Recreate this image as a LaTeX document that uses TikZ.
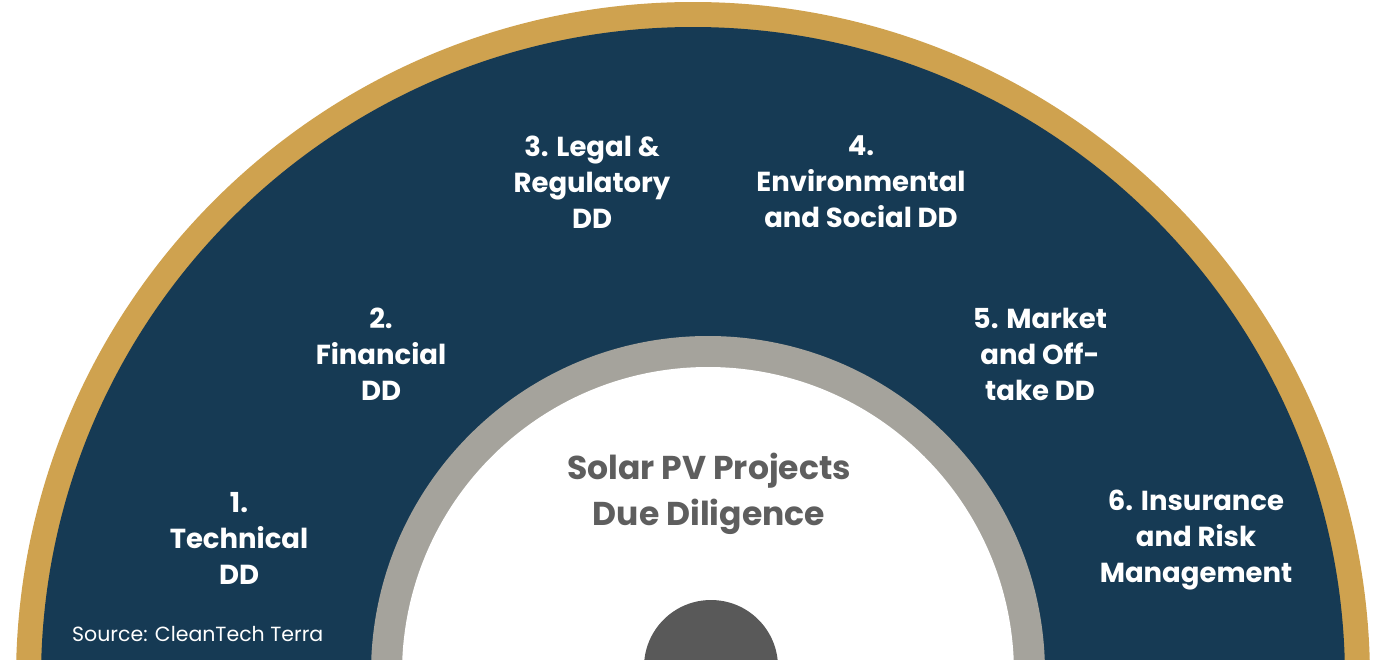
\documentclass[tikz,border=0pt]{standalone}
\usepackage{fontspec}
\setmainfont{Poppins}
\usepackage{tikz}
\usetikzlibrary{positioning}
\definecolor{cnavy}{HTML}{163A54}
\definecolor{cgold}{HTML}{CFA24F}
\definecolor{cring}{HTML}{A5A39C}
\definecolor{chub}{HTML}{595959}
\definecolor{ctitle}{HTML}{5E5E5E}
\tikzset{
  disc/.style={circle, draw=none, inner sep=0pt},
  area/.style={align=center, text=white, inner sep=0pt, font=\bfseries\fontsize{27.5}{36}\selectfont},
  title/.style={align=center, text=ctitle, inner sep=0pt, font=\bfseries\fontsize{33}{46}\selectfont},
  srcnote/.style={text=white, inner sep=0pt, font=\fontsize{20.5}{24}\selectfont},
}
\begin{document}
\begin{tikzpicture}[x=1pt,y=-1pt]
\useasboundingbox (0,0) rectangle (1384,659);
\clip (0,0) rectangle (1384,659);
% outer band and field
\fill[cgold] (693,679) circle[radius=677];
\fill[cnavy] (693,679) circle[radius=652];
% inner ring and hub
\fill[cring] (708,673) circle[radius=337];
\fill[white] (708,673) circle[radius=306];
\fill[chub] (711,667) circle[radius=67];
% areas of due diligence
\node[area] (tech) at (239,538) {1.\\Technical\\DD};
\node[area] (fin) at (381,354) {2.\\Financial\\DD};
\node[area] (legal) at (592,182) {3. Legal \&\\Regulatory\\DD};
\node[area] (env) at (861,182) {4.\\Environmental\\and Social DD};
\node[area] (mkt) at (1040,354) {5. Market\\and Off-\\take DD};
\node[area] (ins) at (1196,540) {6. Insurance\\and Risk\\Management};
\node[title] (core) at (709,494) {Solar PV Projects\\Due Diligence};
\node[srcnote, anchor=west] (src) at (72,634) {Source: CleanTech Terra};
\end{tikzpicture}
\end{document}
